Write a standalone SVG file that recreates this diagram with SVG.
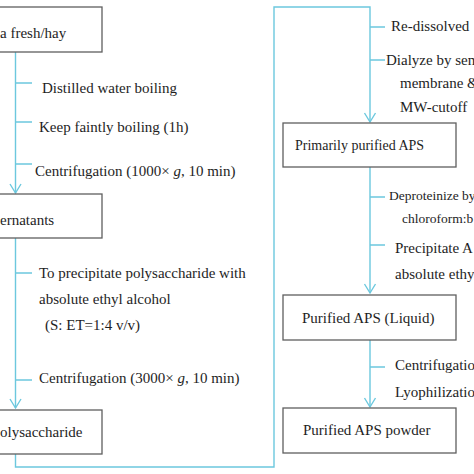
<svg xmlns="http://www.w3.org/2000/svg" width="474" height="474" viewBox="0 0 474 474">
<style>
.box{fill:#fff;stroke:#5f5f5f;stroke-width:1.3}
.ln{fill:none;stroke:#6cc8de;stroke-width:1.4}
.ar{fill:none;stroke:#6cc8de;stroke-width:1.4}
text{font-family:"Liberation Serif","Times New Roman",serif;font-size:15px;fill:#1e1e1e}
.sm{font-size:13.5px}
.bx{font-size:14px}
</style>
<rect width="474" height="474" fill="#fff"/>
<g id="connectors">
<path class="ln" d="M15.5 52V193M15.5 83H32M15.5 122H32M15.5 164H32"/>
<path class="ar" d="M10 184L15.5 193L21 184"/>
<path class="ln" d="M15.5 238V408M15.5 273H32M15.5 380H32"/>
<path class="ar" d="M10 399L15.5 408L21 399"/>
<path class="ln" d="M15.5 454V467H274V7H370V122M370 27H385M370 60H385"/>
<path class="ar" d="M364.5 113L370 122L375.5 113"/>
<path class="ln" d="M370 167V293M370 197H385M370 245H385"/>
<path class="ar" d="M364.5 284L370 293L375.5 284"/>
<path class="ln" d="M370 340V407M370 367H385"/>
<path class="ar" d="M364.5 398L370 407L375.5 398"/>
</g>
<g id="node-raw"><rect class="box" x="-5" y="7" width="107" height="45"/><text x="0" y="38">a fresh/hay</text></g>
<g id="step1">
<text x="42" y="93">Distilled water boiling</text>
<text x="39" y="132">Keep faintly boiling (1h)</text>
<text x="35" y="176">Centrifugation (1000× <tspan font-style="italic">g</tspan>, 10 min)</text>
</g>
<g id="node-supernatants"><rect class="box" x="-5" y="194" width="107" height="44"/><text x="0" y="225">ernatants</text></g>
<g id="step2">
<text x="39" y="278">To precipitate polysaccharide with</text>
<text x="39" y="304">absolute ethyl alcohol</text>
<text x="45" y="330">(S: ET=1:4 v/v)</text>
<text x="39" y="383">Centrifugation (3000× <tspan font-style="italic">g</tspan>, 10 min)</text>
</g>
<g id="node-polysaccharide"><rect class="box" x="-5" y="410" width="107" height="44"/><text x="0" y="437">olysaccharide</text></g>
<g id="step3">
<text x="391" y="31">Re-dissolved</text>
<text x="386" y="65">Dialyze by sem</text>
<text x="400" y="88">membrane &amp;</text>
<text x="400" y="112">MW-cutoff</text>
</g>
<g id="node-primary"><rect class="box" x="283" y="123" width="173" height="44"/><text class="bx" x="295" y="150">Primarily purified APS</text></g>
<g id="step4">
<text class="sm" x="389" y="200">Deproteinize by</text>
<text class="sm" x="402" y="223">chloroform:b</text>
<text x="395" y="253">Precipitate A</text>
<text x="395" y="279">absolute ethy</text>
</g>
<g id="node-liquid"><rect class="box" x="283" y="295" width="173" height="45"/><text x="302" y="323">Purified APS (Liquid)</text></g>
<g id="step5">
<text x="395" y="370">Centrifugatio</text>
<text x="395" y="397">Lyophilizatio</text>
</g>
<g id="node-powder"><rect class="box" x="283" y="408" width="173" height="45"/><text x="303" y="435">Purified APS powder</text></g>
</svg>
